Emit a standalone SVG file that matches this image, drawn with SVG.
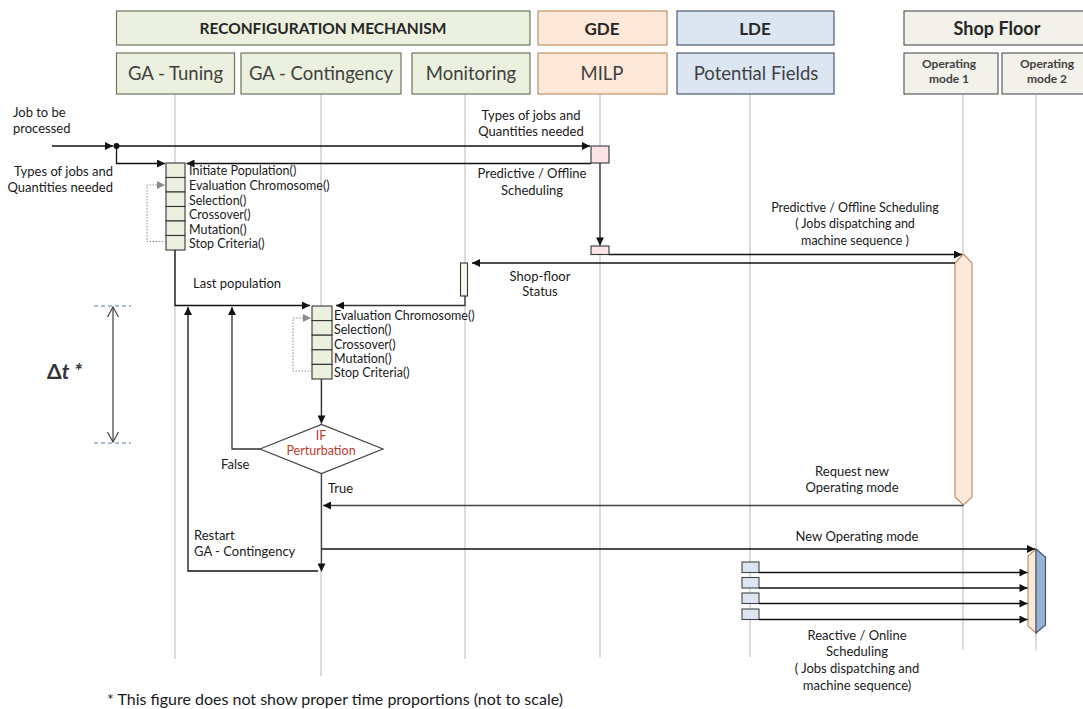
<svg xmlns="http://www.w3.org/2000/svg" width="1083" height="709" viewBox="0 0 1083 709">
<defs>
<marker id="ah" viewBox="0 0 10 10" refX="10" refY="5" markerWidth="10" markerHeight="8" markerUnits="userSpaceOnUse" orient="auto"><path d="M0,0 L10,5 L0,10 z" fill="#111"/></marker>
<marker id="ahg" viewBox="0 0 10 10" refX="10" refY="5" markerWidth="10" markerHeight="8" markerUnits="userSpaceOnUse" orient="auto"><path d="M0,0 L10,5 L0,10 z" fill="#8c8c8c"/></marker>
<marker id="ao" viewBox="0 0 12 12" refX="11" refY="6" markerWidth="12" markerHeight="12" markerUnits="userSpaceOnUse" orient="auto-start-reverse"><path d="M1,0.5 L11,6 L1,11.5" fill="none" stroke="#404040" stroke-width="1.2"/></marker>
<style>
text{font-family:Lato,"Liberation Sans",sans-serif;fill:#1a1a1a}
.hb{font-weight:bold;font-size:17px;text-anchor:middle;fill:#262626}
.hr{font-size:18.5px;text-anchor:middle;fill:#404040}
.hs{font-weight:bold;font-size:12px;text-anchor:middle;fill:#404040}
.lb{font-size:12.5px}
.lt{font-size:13px}
.mid{text-anchor:middle}
.life{stroke:#c4c4c4;stroke-width:1.2;fill:none}
.c{stroke:#111;stroke-width:1.3;fill:none}
.g{stroke:#8c8c8c;stroke-width:1;fill:none;stroke-dasharray:1.5 1.5}
.grh{fill:#ebf1de;stroke:#6b7560;stroke-width:1.2}
.or{fill:#fde9d9;stroke:#c0916a;stroke-width:1.2}
.bl{fill:#dce6f2;stroke:#4a5a70;stroke-width:1.2}
.sf{fill:#f2f2ea;stroke:#5b5b5b;stroke-width:1.2}
.cell{fill:#ebf1de;stroke:#333;stroke-width:1.1}
.pk{fill:#fce4e6;stroke:#333;stroke-width:1.1}
.lbx{fill:#dce6f2;stroke:#444;stroke-width:1.1}
</style>
</defs>
<rect width="1083" height="709" fill="#fff"/>

<g id="lifelines">
<line class="life" x1="175" y1="94" x2="175" y2="659"/>
<line class="life" x1="321" y1="94" x2="321" y2="676"/>
<line class="life" x1="465" y1="94" x2="465" y2="659"/>
<line class="life" x1="600" y1="94" x2="600" y2="658"/>
<line class="life" x1="750" y1="94" x2="750" y2="657"/>
<line class="life" x1="963" y1="95" x2="963" y2="650"/>
<line class="life" x1="1036" y1="95" x2="1036" y2="650"/>
</g>

<g id="hdr-reconfig"><rect class="grh" x="116.5" y="11" width="413.5" height="34"/><text class="hb" x="323" y="34" style="font-size:15.5px">RECONFIGURATION MECHANISM</text></g>
<g id="hdr-gde"><rect class="or" x="538" y="11" width="129" height="34"/><text class="hb" x="602" y="34.5">GDE</text></g>
<g id="hdr-lde"><rect class="bl" x="677" y="11" width="157" height="34"/><text class="hb" x="755" y="34.5">LDE</text></g>
<g id="hdr-shopfloor"><rect class="sf" x="904" y="11" width="190" height="34"/><text class="hb" x="997" y="35" style="font-size:18px">Shop Floor</text></g>

<g id="ga-tuning"><rect class="grh" x="116.5" y="53" width="118" height="41"/><text class="hr" x="175.5" y="80">GA - Tuning</text></g>
<g id="ga-contingency"><rect class="grh" x="241" y="53" width="160" height="41"/><text class="hr" x="321" y="80">GA - Contingency</text></g>
<g id="monitoring"><rect class="grh" x="412" y="53" width="118" height="41"/><text class="hr" x="471" y="80">Monitoring</text></g>
<g id="milp"><rect class="or" x="538" y="53" width="129" height="41"/><text class="hr" x="602" y="80">MILP</text></g>
<g id="potential-fields"><rect class="bl" x="677" y="53" width="157" height="41"/><text class="hr" x="756" y="80">Potential Fields</text></g>
<g id="op-mode-1"><rect class="sf" x="904" y="53" width="94" height="41"/><text class="hs" x="949" y="68">Operating</text><text class="hs" x="949" y="83">mode 1</text></g>
<g id="op-mode-2"><rect class="sf" x="1002" y="53" width="92" height="41"/><text class="hs" x="1047" y="68">Operating</text><text class="hs" x="1047" y="83">mode 2</text></g>

<g id="ga-tuning-block">
<rect class="cell" x="166" y="163" width="19" height="14.5"/>
<rect class="cell" x="166" y="177.5" width="19" height="14.5"/>
<rect class="cell" x="166" y="192" width="19" height="14.5"/>
<rect class="cell" x="166" y="206.5" width="19" height="14.5"/>
<rect class="cell" x="166" y="221" width="19" height="14.5"/>
<rect class="cell" x="166" y="235.5" width="19" height="14.5"/>
<text class="lb" x="189" y="175">Initiate Population()</text>
<text class="lb" x="189" y="190">Evaluation Chromosome()</text>
<text class="lb" x="189" y="204.5">Selection()</text>
<text class="lb" x="189" y="219">Crossover()</text>
<text class="lb" x="189" y="233.5">Mutation()</text>
<text class="lb" x="189" y="248">Stop Criteria()</text>
</g>

<g id="ga-contingency-block">
<rect class="cell" x="312" y="306" width="20" height="14.6"/>
<rect class="cell" x="312" y="320.6" width="20" height="14.6"/>
<rect class="cell" x="312" y="335.2" width="20" height="14.6"/>
<rect class="cell" x="312" y="349.8" width="20" height="14.6"/>
<rect class="cell" x="312" y="364.4" width="20" height="14.6"/>
<text class="lb" x="334" y="320">Evaluation Chromosome()</text>
<text class="lb" x="334" y="334">Selection()</text>
<text class="lb" x="334" y="348.5">Crossover()</text>
<text class="lb" x="334" y="363">Mutation()</text>
<text class="lb" x="334" y="377">Stop Criteria()</text>
</g>

<g id="milp-activations">
<rect class="pk" x="591" y="146" width="18" height="17"/>
<rect class="pk" x="591" y="246" width="18" height="8.5"/>
</g>

<g id="monitoring-activation"><rect x="460.5" y="263" width="7" height="33" fill="#f3f7ec" stroke="#333" stroke-width="1.1"/></g>

<g id="op-mode-1-activation"><polygon class="or" points="955,263 963.5,254 972,263 972,497 963.5,505 955,497"/></g>

<g id="op-mode-2-activation">
<polygon class="or" points="1036,549 1028,556 1028,626 1036,633"/>
<polygon fill="#95b3d7" stroke="#3d4f66" stroke-width="1.1" points="1036,549 1045.5,557 1045.5,625 1036,633"/>
</g>

<g id="lde-activations">
<rect class="lbx" x="742" y="562" width="17" height="10.5"/>
<rect class="lbx" x="742" y="577.5" width="17" height="10.5"/>
<rect class="lbx" x="742" y="593" width="17" height="10.5"/>
<rect class="lbx" x="742" y="609" width="17" height="10.5"/>
</g>

<g id="decision">
<polygon points="260,449 321.5,424.5 383,449 321.5,473.5" fill="#fff" stroke="#444" stroke-width="1.2"/>
<text class="lb mid" x="321" y="439.5" style="fill:#c0392b">IF</text>
<text class="lb mid" x="321" y="455" style="fill:#c0392b">Perturbation</text>
</g>

<g id="connectors">
<path class="c" d="M52,146 H113" marker-end="url(#ah)"/>
<circle cx="116.5" cy="146" r="3" fill="#111"/>
<path class="c" d="M116.5,146 H590" marker-end="url(#ah)"/>
<path class="c" d="M116.5,146 V163.5 H165" marker-end="url(#ah)"/>
<path class="c" d="M591,163.5 H186.5" marker-end="url(#ah)"/>
<path class="g" d="M166,241.5 H147 V185 H165" marker-end="url(#ahg)"/>
<path class="c" d="M600,163 V245.5" marker-end="url(#ah)" style="stroke:#333"/>
<path class="c" d="M609,254.5 H962" marker-end="url(#ah)"/>
<path class="c" d="M955,263 H472" marker-end="url(#ah)"/>
<path class="c" d="M465,296 V305.5 H336" marker-end="url(#ah)" style="stroke:#333"/>
<path class="c" d="M175,250 V305.5 H310" marker-end="url(#ah)"/>
<path class="g" d="M312,371 H293 V318 H311" marker-end="url(#ahg)"/>
<path class="c" d="M321.5,379 V423.5" marker-end="url(#ah)" style="stroke:#333"/>
<path class="c" d="M260,449 H232 V307" marker-end="url(#ah)" style="stroke:#333"/>
<path class="c" d="M963.5,505.5 H323" marker-end="url(#ah)" style="stroke:#444"/>
<path class="c" d="M321.5,473.5 V571.5" marker-end="url(#ah)" style="stroke:#444"/>
<path class="c" d="M318,571 H188 V307" marker-end="url(#ah)"/>
<path class="c" d="M321.5,549 H1035" marker-end="url(#ah)"/>
<path class="c" d="M759,572.5 H1027.5" marker-end="url(#ah)"/>
<path class="c" d="M759,588 H1027.5" marker-end="url(#ah)"/>
<path class="c" d="M759,603.5 H1027.5" marker-end="url(#ah)"/>
<path class="c" d="M759,619.5 H1027.5" marker-end="url(#ah)"/>
</g>

<g id="labels">
<text class="lt" x="13" y="117">Job to be</text>
<text class="lt" x="13" y="133">processed</text>
<text class="lt" x="113" y="176" text-anchor="end">Types of jobs and</text>
<text class="lt" x="113" y="192" text-anchor="end">Quantities needed</text>
<text class="lt mid" x="531" y="120">Types of jobs and</text>
<text class="lt mid" x="531" y="136">Quantities needed</text>
<text class="lt mid" x="532" y="178">Predictive / Offline</text>
<text class="lt mid" x="532" y="195">Scheduling</text>
<text class="lb mid" x="855" y="212">Predictive / Offline Scheduling</text>
<text class="lb mid" x="855" y="228">( Jobs dispatching  and</text>
<text class="lb mid" x="855" y="245">machine  sequence )</text>
<text class="lt mid" x="540" y="281">Shop-floor</text>
<text class="lt mid" x="540" y="296">Status</text>
<text class="lt" x="193" y="288">Last population</text>
<text class="lt" x="221" y="469">False</text>
<text class="lt" x="328" y="493">True</text>
<text class="lt" x="194" y="540">Restart</text>
<text class="lt" x="194" y="556">GA - Contingency</text>
<text class="lt mid" x="852" y="476">Request new</text>
<text class="lt mid" x="852" y="492">Operating mode</text>
<text class="lt mid" x="857" y="541">New Operating mode</text>
<text class="lt mid" x="857" y="640">Reactive / Online</text>
<text class="lt mid" x="857" y="656">Scheduling</text>
<text class="lt mid" x="857" y="673">( Jobs dispatching  and</text>
<text class="lt mid" x="857" y="690">machine sequence)</text>
</g>

<g id="delta-t">
<line x1="94" y1="306" x2="131" y2="306" stroke="#5a7ca6" stroke-width="1" stroke-dasharray="4 3"/>
<line x1="94" y1="443" x2="131" y2="443" stroke="#5a7ca6" stroke-width="1" stroke-dasharray="4 3"/>
<line x1="113" y1="307" x2="113" y2="442" stroke="#404040" stroke-width="1.2" marker-start="url(#ao)" marker-end="url(#ao)"/>
<text x="47" y="379" style="font-size:21px;font-weight:bold;fill:#333">Δ<tspan font-style="italic">t *</tspan></text>
</g>

<text x="107" y="705" style="font-size:16px;fill:#1a1a1a">* This figure does not show proper time proportions (not to scale)</text>
</svg>
